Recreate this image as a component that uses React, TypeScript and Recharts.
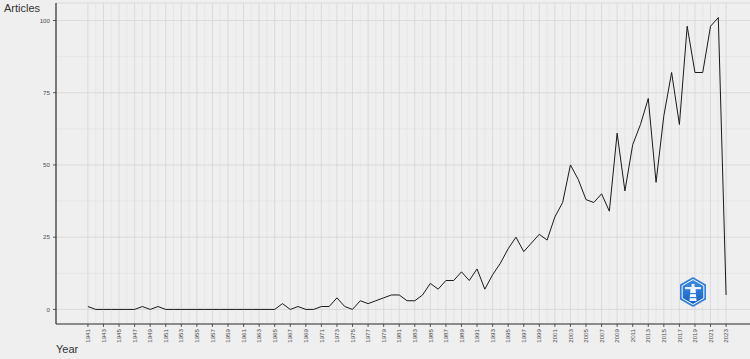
import React from "react";
import { LineChart, Line, XAxis, YAxis, CartesianGrid } from "recharts";

const YEARS = [
  1941, 1942, 1943, 1944, 1945, 1946, 1947, 1948, 1949, 1950,
  1951, 1952, 1953, 1954, 1955, 1956, 1957, 1958, 1959, 1960,
  1961, 1962, 1963, 1964, 1965, 1966, 1967, 1968, 1969, 1970,
  1971, 1972, 1973, 1974, 1975, 1976, 1977, 1978, 1979, 1980,
  1981, 1982, 1983, 1984, 1985, 1986, 1987, 1988, 1989, 1990,
  1991, 1992, 1993, 1994, 1995, 1996, 1997, 1998, 1999, 2000,
  2001, 2002, 2003, 2004, 2005, 2006, 2007, 2008, 2009, 2010,
  2011, 2012, 2013, 2014, 2015, 2016, 2017, 2018, 2019, 2020,
  2021, 2022, 2023,
];

const ARTICLES = [
  1, 0, 0, 0, 0, 0, 0, 1, 0, 1,
  0, 0, 0, 0, 0, 0, 0, 0, 0, 0,
  0, 0, 0, 0, 0, 2, 0, 1, 0, 0,
  1, 1, 4, 1, 0, 3, 2, 3, 4, 5,
  5, 3, 3, 5, 9, 7, 10, 10, 13, 10,
  14, 7, 12, 16, 21, 25, 20, 23, 26, 24,
  32, 37, 50, 45, 38, 37, 40, 34, 61, 41,
  57, 64, 73, 44, 67, 82, 64, 98, 82, 82,
  98, 101, 5,
];

const X_TICKS = [
  1941, 1943, 1945, 1947, 1949, 1951, 1953, 1955, 1957, 1959,
  1961, 1963, 1965, 1967, 1969, 1971, 1973, 1975, 1977, 1979,
  1981, 1983, 1985, 1987, 1989, 1991, 1993, 1995, 1997, 1999,
  2001, 2003, 2005, 2007, 2009, 2011, 2013, 2015, 2017, 2019,
  2021, 2023,
];
const Y_TICKS = [0, 25, 50, 75, 100];
const Y_MINOR = [12.5, 37.5, 62.5, 87.5];

const data = YEARS.map((y, i) => ({ year: y, articles: ARTICLES[i] }));
const X_MINOR = YEARS.filter((y) => y % 2 === 0);

const FONT = '"Liberation Sans", Arial, Helvetica, sans-serif';
const BG = "#efefef";

const XTick = (props: any) => {
  const { x, y, payload } = props;
  return (
    <g transform={`translate(${x},${y})`}>
      <text
        transform="rotate(-90)"
        x={-1}
        y={0}
        dy="0.35em"
        textAnchor="end"
        fontSize={6.2}
        fill="#4d4d4d"
        fontFamily={FONT}
      >
        {payload.value}
      </text>
    </g>
  );
};

const YTick = (props: any) => {
  const { x, y, payload } = props;
  return (
    <text
      x={x}
      y={y}
      dy="0.35em"
      textAnchor="end"
      fontSize={6.2}
      fill="#4d4d4d"
      fontFamily={FONT}
    >
      {payload.value}
    </text>
  );
};

const Logo = () => {
  const cx = 693;
  const cy = 292;
  const r = 15;
  const pts = [0, 1, 2, 3, 4, 5]
    .map((k) => {
      const a = (Math.PI / 3) * k - Math.PI / 2;
      return `${cx + r * Math.cos(a)},${cy + r * Math.sin(a)}`;
    })
    .join(" ");
  const r2 = 12.5;
  const pts2 = [0, 1, 2, 3, 4, 5]
    .map((k) => {
      const a = (Math.PI / 3) * k - Math.PI / 2;
      return `${cx + r2 * Math.cos(a)},${cy + r2 * Math.sin(a)}`;
    })
    .join(" ");
  return (
    <g>
      <defs>
        <linearGradient id="lg" x1="0" y1="0" x2="0" y2="1">
          <stop offset="0" stopColor="#3b8de6" />
          <stop offset="1" stopColor="#1a5fc4" />
        </linearGradient>
      </defs>
      <polygon points={pts} fill="#2f7fe0" />
      <polygon points={pts2} fill="url(#lg)" stroke="#ffffff" strokeWidth={1} />
      <rect x={cx - 8} y={cy - 5} width={16} height={2.2} fill="#e8f1fc" />
      <path
        d={`M${cx - 2.5},${cy - 3} L${cx + 2.5},${cy - 3} L${cx + 3.5},${cy + 9} L${cx - 3.5},${cy + 9} Z`}
        fill="#ffffff"
      />
      <rect x={cx - 1.5} y={cy - 8} width={3} height={3} fill="#ffffff" />
      <rect x={cx - 3} y={cy + 1} width={6} height={1.2} fill="#2f7fe0" />
      <rect x={cx - 3.3} y={cy + 5} width={6.6} height={1.2} fill="#2f7fe0" />
    </g>
  );
};

export default function App() {
  return (
    <div
      style={{
        position: "absolute",
        left: 0,
        top: 0,
        width: 750,
        height: 359,
        overflow: "hidden",
        background: BG,
      }}
    >
      <LineChart
        width={758}
        height={359}
        data={data}
        margin={{ top: 3, right: 0, left: 0, bottom: 0 }}
      >
        <CartesianGrid
          stroke="#e0e0e0"
          strokeWidth={0.6}
          verticalValues={X_MINOR}
          horizontalValues={Y_MINOR}
          fill={BG}
        />
        <CartesianGrid stroke="#d4d4d4" strokeWidth={0.8} />
        <XAxis
          dataKey="year"
          type="number"
          domain={[1936.9, 2027.1]}
          ticks={X_TICKS}
          interval={0}
          height={35}
          tickSize={3}
          tickMargin={1}
          tick={<XTick />}
          axisLine={{ stroke: "#333333", strokeWidth: 1.2 }}
          tickLine={{ stroke: "#333333", strokeWidth: 0.8 }}
          allowDataOverflow
        />
        <YAxis
          type="number"
          domain={[-5.05, 106.05]}
          ticks={Y_TICKS}
          interval={0}
          width={56}
          tickSize={3}
          tickMargin={3}
          tick={<YTick />}
          axisLine={{ stroke: "#333333", strokeWidth: 1.2 }}
          tickLine={{ stroke: "#333333", strokeWidth: 0.8 }}
          allowDataOverflow
        />
        <Line
          type="linear"
          dataKey="articles"
          stroke="#1a1a1a"
          strokeWidth={1}
          dot={false}
          activeDot={false}
          isAnimationActive={false}
        />
      </LineChart>
      <svg
        width={750}
        height={359}
        style={{ position: "absolute", left: 0, top: 0, pointerEvents: "none" }}
      >
        <text x={4} y={11.5} fontSize={11} fill="#333333" fontFamily={FONT}>
          Articles
        </text>
        <text x={56} y={353} fontSize={11} fill="#333333" fontFamily={FONT}>
          Year
        </text>
        <Logo />
      </svg>
    </div>
  );
}
